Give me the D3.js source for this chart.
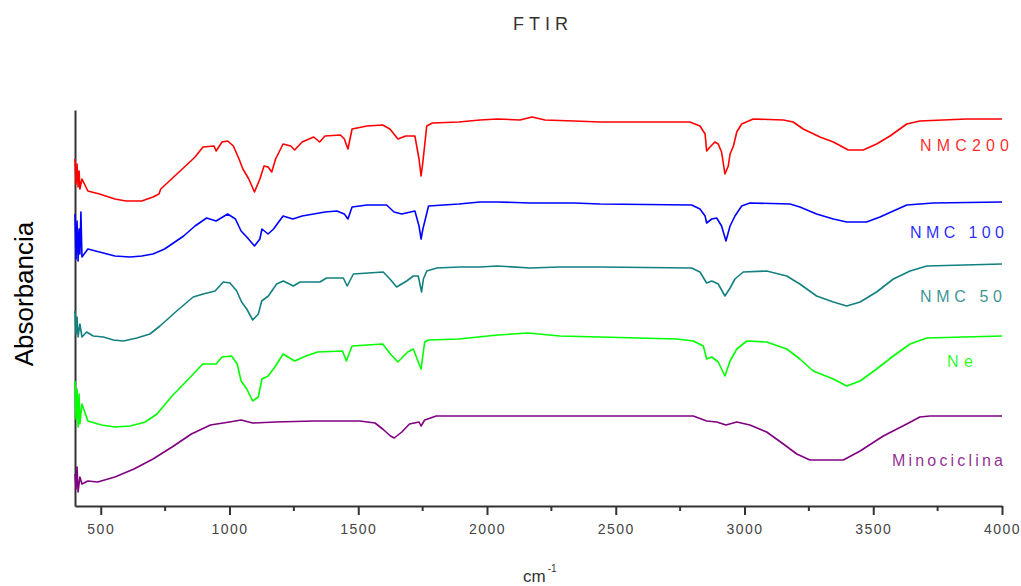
<!DOCTYPE html>
<html>
<head>
<meta charset="utf-8">
<script src="https://cdn.jsdelivr.net/npm/d3@7"></script>
<style>
  body { margin: 0; background: #fff; }
  text { font-family: "Liberation Sans", Arial, sans-serif; }
</style>
</head>
<body>
<script>
// wavenumber (cm-1), absorbance in arbitrary units
const nmc200 = [
  [400,347],[404,322],[408,342],[412,319],[416,335],[419,317],[427,327],[450,315],[495,312],
  [555,307],[598,305],[659,305],[703,309],[726,312],[733,317],[850,345],[866,349],[897,359],
  [940,360],[948,355],[971,364],[993,365],[1015,360],[1037,347],[1052,337],[1075,327],[1097,314],
  [1118,327],[1134,340],[1150,339],[1164,334],[1179,347],[1208,362],[1238,360],[1253,356],
  [1282,364],[1327,369],[1350,364],[1371,370],[1431,371],[1446,367],[1460,357],[1476,377],
  [1534,380],[1595,381],[1623,377],[1654,367],[1684,370],[1720,370],[1736,347],[1744,330],
  [1751,344],[1766,380],[1788,383],[1891,384],[1973,386],[2041,387],[2128,386],[2175,389],
  [2225,386],[2338,385],[2439,384],[2633,384],[2788,384],[2827,380],[2847,372],[2853,355],
  [2866,359],[2885,364],[2898,362],[2911,354],[2924,332],[2937,340],[2944,352],[2957,360],
  [2970,374],[2989,382],[3034,387],[3151,386],[3189,384],[3228,377],[3293,369],[3345,364],
  [3403,356],[3461,356],[3513,362],[3565,370],[3630,382],[3681,385],[3863,387],[4000,387]
];

const nmc100 = [
  [400,292],[404,247],[408,285],[412,245],[416,277],[419,252],[423,294],[427,249],[450,257],
  [495,254],[555,250],[614,249],[659,250],[703,252],[748,257],[822,270],[866,280],[911,288],
  [948,285],[993,292],[1023,287],[1045,275],[1067,269],[1097,260],[1118,267],[1126,277],
  [1150,272],[1171,277],[1208,290],[1246,287],[1282,290],[1371,294],[1417,295],[1446,292],
  [1460,287],[1476,299],[1534,301],[1610,301],[1639,294],[1669,292],[1720,295],[1736,280],
  [1744,267],[1751,277],[1773,300],[1891,302],[1973,304],[2041,304],[2167,303],[2338,303],
  [2439,302],[2795,301],[2827,297],[2847,290],[2853,283],[2873,287],[2892,288],[2911,280],
  [2928,265],[2944,280],[2963,290],[2989,300],[3021,303],[3177,302],[3215,299],[3280,292],
  [3345,287],[3397,284],[3474,284],[3526,289],[3578,295],[3630,301],[3733,303],[4000,304]
];

const nmc50 = [
  [400,195],[404,172],[408,189],[412,169],[419,182],[427,169],[445,174],[471,170],[510,169],
  [549,166],[588,165],[640,168],[691,172],[730,180],[795,195],[859,209],[898,212],[944,215],
  [976,224],[1002,223],[1028,215],[1047,204],[1067,197],[1090,186],[1112,192],[1125,205],
  [1151,210],[1183,222],[1209,225],[1248,220],[1274,224],[1351,224],[1377,228],[1442,228],
  [1457,220],[1481,232],[1597,234],[1623,227],[1649,219],[1688,225],[1714,230],[1733,230],
  [1746,214],[1753,227],[1766,235],[1805,238],[1895,239],[1973,239],[2039,240],[2167,238],
  [2283,239],[2439,239],[2795,238],[2827,234],[2853,223],[2873,225],[2898,222],[2924,210],
  [2944,218],[2963,227],[2995,234],[3086,235],[3164,230],[3215,222],[3280,210],[3345,204],
  [3397,200],[3449,204],[3513,214],[3578,227],[3643,235],[3708,240],[4000,242]
];

const ne = [
  [400,125],[404,87],[408,117],[412,79],[416,112],[419,82],[427,102],[450,85],[503,81],
  [555,79],[614,80],[673,84],[718,92],[777,110],[852,130],[896,142],[948,142],[971,149],
  [1008,150],[1030,142],[1045,125],[1067,117],[1090,105],[1112,109],[1126,127],[1150,130],
  [1179,140],[1208,152],[1253,145],[1297,150],[1342,154],[1439,155],[1454,145],[1476,160],
  [1595,162],[1625,152],[1654,144],[1692,154],[1714,157],[1736,142],[1744,137],[1758,164],
  [1773,166],[1891,167],[2041,171],[2159,173],[2283,170],[2439,169],[2737,167],[2801,165],
  [2840,160],[2853,147],[2873,149],[2898,144],[2924,130],[2944,145],[2970,157],[3009,165],
  [3086,164],[3164,157],[3215,147],[3267,135],[3345,127],[3397,120],[3449,125],[3513,137],
  [3578,150],[3643,162],[3708,168],[4000,170]
];

const minociclina = [
  [400,32],[404,17],[408,39],[412,14],[419,29],[427,22],[450,25],[488,24],[555,29],[629,37],
  [703,47],[777,59],[852,72],[926,81],[1000,84],[1045,86],[1090,83],[1179,84],[1327,85],
  [1506,85],[1565,83],[1595,77],[1625,70],[1640,68],[1669,74],[1699,82],[1736,84],[1744,80],
  [1758,86],[1803,90],[2439,90],[2801,90],[2853,85],[2892,84],[2928,81],[2970,84],[3021,81],
  [3086,74],[3151,62],[3203,52],[3254,46],[3384,46],[3449,55],[3539,70],[3630,82],[3681,89],
  [3720,90],[4000,90]
];

const seriesNames = ['NMC200', 'NMC 100', 'NMC 50', 'Ne', 'Minociclina'];
const seriesData = [nmc200, nmc100, nmc50, ne, minociclina];
const seriesColors = ['#ff0000', '#0000ff', '#138080', '#00ff00', '#800080'];

const majorTicks = [500, 1000, 1500, 2000, 2500, 3000, 3500, 4000];
const minorTicks = [750, 1250, 1750, 2250, 2750, 3250, 3750];

const width = 1021;
const height = 586;

// label placement (pixels), one per series
const labelPos = [
  {x: 920, y: 151, w: 89},
  {x: 910, y: 238, w: 94},
  {x: 920, y: 302, w: 82},
  {x: 947, y: 367, w: 26},
  {x: 892, y: 466, w: 111}
];

const x = d3.scaleLinear()
      .domain([400, 4000])
      .range([75, 1002]);

const y = d3.scaleLinear()
      .domain([0, 396])
      .range([506, 110]);

const line = d3.line()
      .x(d => x(d[0]))
      .y(d => y(d[1]));

const svg = d3.select('body')
      .append('svg')
      .attr('width', width)
      .attr('height', height);

// x axis: labelled ticks plus short minor ticks
const xAxis = svg.append('g')
      .attr('transform', `translate(0, ${y(0)})`)
      .call(d3.axisBottom(x)
	    .tickValues(majorTicks)
	    .tickFormat(d3.format('d'))
	    .tickSize(9)
	    .tickSizeOuter(0)
	    .tickPadding(9));

xAxis.select('.domain').attr('stroke', '#333').attr('stroke-width', 2);
xAxis.selectAll('.tick line').attr('stroke', '#333').attr('stroke-width', 2);
xAxis.selectAll('.tick text')
    .attr('fill', '#444')
    .style('font-size', '14px')
    .style('letter-spacing', '1.5px');

svg.append('g')
    .selectAll('line')
    .data(minorTicks)
    .enter()
    .append('line')
    .attr('x1', d => x(d))
    .attr('x2', d => x(d))
    .attr('y1', y(0))
    .attr('y2', y(0) + 5)
    .attr('stroke', '#333')
    .attr('stroke-width', 2);

// y axis: plain line, no ticks
const yAxis = svg.append('g')
      .attr('transform', `translate(${x(400)}, 0)`)
      .call(d3.axisLeft(y).tickValues([]).tickSizeOuter(0));

yAxis.select('.domain').attr('stroke', '#333').attr('stroke-width', 2);

svg.append('g')
    .selectAll('path.spectrum')
    .data(seriesData)
    .enter()
    .append('path')
    .attr('class', 'spectrum')
    .attr('fill', 'none')
    .attr('stroke', (d, i) => seriesColors[i])
    .attr('stroke-width', 1.6)
    .attr('stroke-linejoin', 'round')
    .attr('d', d => line(d));

svg.append('g')
    .selectAll('text')
    .data(seriesNames)
    .enter()
    .append('text')
    .attr('x', (d, i) => labelPos[i].x)
    .attr('y', (d, i) => labelPos[i].y)
    .attr('textLength', (d, i) => labelPos[i].w)
    .attr('lengthAdjust', 'spacing')
    .attr('fill', (d, i) => seriesColors[i])
    .attr('fill-opacity', 0.85)
    .style('font-size', '16px')
    .text(d => d);

// titles
svg.append('text')
    .attr('x', 513)
    .attr('y', 30)
    .attr('textLength', 55)
    .attr('lengthAdjust', 'spacing')
    .attr('fill', '#333')
    .style('font-size', '18px')
    .text('FTIR');

svg.append('text')
    .attr('transform', 'translate(33, 294) rotate(-90)')
    .attr('text-anchor', 'middle')
    .attr('fill', '#000')
    .style('font-size', '26px')
    .text('Absorbancia');

const unit = svg.append('text')
      .attr('x', 523)
      .attr('y', 582)
      .attr('fill', '#333')
      .style('font-size', '17px');

unit.append('tspan').text('cm');
unit.append('tspan')
    .attr('dy', -10)
    .attr('dx', 2)
    .style('font-size', '10px')
    .text('-1');
</script>
</body>
</html>
